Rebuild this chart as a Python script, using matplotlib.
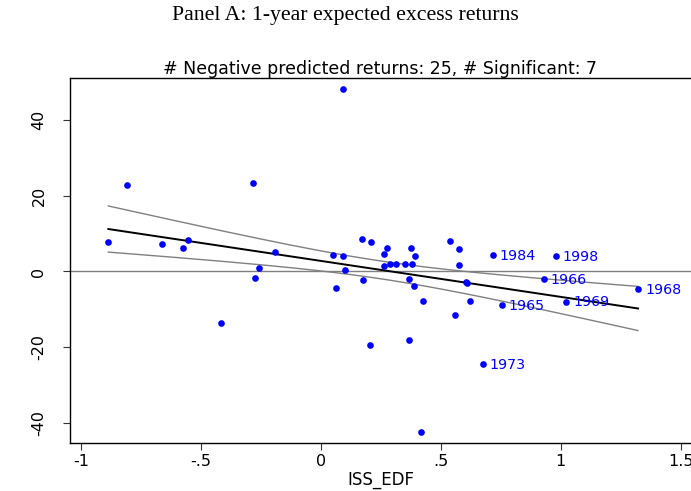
#!/usr/bin/env python3
"""Scatter of 1-year expected excess returns against ISS_EDF with linear fit and CI."""

import numpy as np
import matplotlib
matplotlib.use("Agg")
import matplotlib.pyplot as plt

OUTPUT_PNG = "out.png"

ISS_EDF = [
    -0.886, -0.807, -0.664, -0.576, -0.552, -0.416, -0.284, -0.276, -0.260, -0.191,
    0.049, 0.064, 0.092, 0.092, 0.102, 0.170, 0.175, 0.203, 0.210, 0.265,
    0.265, 0.274, 0.290, 0.312, 0.352, 0.366, 0.366, 0.375, 0.379, 0.387,
    0.392, 0.419, 0.427, 0.539, 0.561, 0.575, 0.575, 0.604, 0.611, 0.622,
    0.674, 0.717, 0.754, 0.928, 0.980, 1.022, 1.322,
]
EXCESS_RET = [
    7.7, 23.0, 7.4, 6.1, 8.3, -13.6, 23.5, -1.7, 0.9, 5.1,
    4.3, -4.5, 4.0, 48.4, 0.4, 8.7, -2.2, -19.4, 7.7, 4.6,
    1.4, 6.2, 2.0, 2.0, 2.0, -2.0, -18.0, 6.1, 2.0, -3.9,
    4.0, -42.6, -7.8, 8.1, -11.6, 5.9, 1.7, -2.8, -3.0, -7.8,
    -24.5, 4.3, -8.9, -2.0, 4.1, -8.0, -4.6,
]
# significant years (labelled points)
YEAR_LABELS = {40: "1973", 41: "1984", 42: "1965", 43: "1966", 44: "1998", 45: "1969", 46: "1968"}

XTICKS = [-1, -0.5, 0, 0.5, 1, 1.5]
XTICK_LABELS = ["-1", "-.5", "0", ".5", "1", "1.5"]
YTICKS = [-40, -20, 0, 20, 40]
YTICK_LABELS = ["-40", "-20", "0", "20", "40"]

BLUE = "#0000FF"
GREY = "#808080"
SANS = "DejaVu Sans"


def linear_fit_ci(x, y, grid, t=1.30):
    # OLS fit with band for the mean prediction (80% level)
    n = len(x)
    b, a = np.polyfit(x, y, 1)
    resid = y - (a + b * x)
    s = np.sqrt(np.sum(resid ** 2) / (n - 2))
    sxx = np.sum((x - x.mean()) ** 2)
    fit = a + b * grid
    se = s * np.sqrt(1.0 / n + (grid - x.mean()) ** 2 / sxx)
    return fit, fit - t * se, fit + t * se


def main():
    x = np.array(ISS_EDF)
    y = np.array(EXCESS_RET)

    fig = plt.figure(figsize=(6.91, 4.91), dpi=100)
    ax = fig.add_axes([0.1013, 0.0984, 0.8987, 0.7428])

    grid = np.linspace(x.min(), x.max(), 200)
    fit, lo, hi = linear_fit_ci(x, y, grid)

    ax.axhline(0, color=GREY, linewidth=1.0, zorder=1)
    ax.plot(grid, hi, color=GREY, linewidth=1.0, zorder=2)
    ax.plot(grid, lo, color=GREY, linewidth=1.0, zorder=2)
    ax.plot(grid, fit, color="black", linewidth=1.4, zorder=3)
    ax.plot(x, y, "o", color=BLUE, markersize=4.8, markeredgewidth=0, zorder=4)

    for i, year in YEAR_LABELS.items():
        ax.annotate(year, (x[i], y[i]), xytext=(5, -0.5), textcoords="offset points",
                    va="center", ha="left", color=BLUE, fontsize=10.3, family=SANS)

    ax.set_xlim(-1.0459, 1.5428)
    ax.set_ylim(-45.3, 51.2)
    ax.set_xticks(XTICKS)
    ax.set_xticklabels(XTICK_LABELS)
    ax.set_yticks(YTICKS)
    ax.set_yticklabels(YTICK_LABELS, rotation=90, va="center")
    ax.tick_params(labelsize=11.5, length=5, width=0.8, color="#333333")
    ax.tick_params(axis="y", pad=12)
    for lab in ax.get_xticklabels() + ax.get_yticklabels():
        lab.set_family(SANS)

    ax.spines["right"].set_visible(False)
    for side in ("left", "bottom", "top"):
        ax.spines[side].set_linewidth(1.0)

    ax.set_xlabel("ISS_EDF", fontsize=12, family=SANS, labelpad=1)
    ax.set_title("# Negative predicted returns: 25, # Significant: 7",
                 fontsize=12.5, family=SANS, pad=3)
    fig.text(0.5, 0.969, "Panel A: 1-year expected excess returns",
             ha="center", va="center", fontsize=15.7, family="Liberation Serif")

    fig.savefig(OUTPUT_PNG, dpi=100)


if __name__ == "__main__":
    main()
